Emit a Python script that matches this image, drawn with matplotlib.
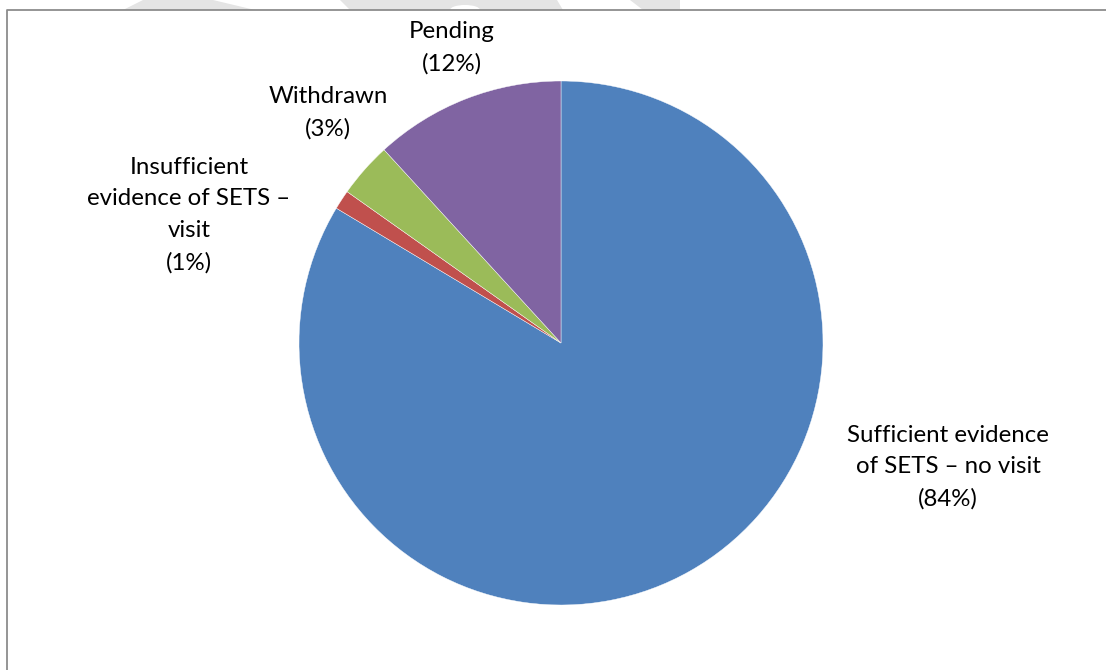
import matplotlib
matplotlib.use("Agg")
import matplotlib.pyplot as plt
from matplotlib.lines import Line2D
from matplotlib.patches import Polygon, Ellipse

# Share of applications by outcome (percent)
categories = [
    "Sufficient evidence\nof SETS \u2013 no visit",
    "Insufficient\nevidence of SETS \u2013\nvisit",
    "Withdrawn",
    "Pending",
]
shares = [83.6, 1.2, 3.4, 11.8]
colors = ["#4F81BD", "#C0504D", "#9BBB59", "#8064A2"]

W, H = 1106, 670
fig = plt.figure(figsize=(W / 100, H / 100), dpi=100)
fig.patch.set_facecolor("white")

def fx(px):
    return px / W

def fy(py):
    return 1 - py / H

# light watermark shapes peeking above the chart frame
for pts in [
    [(143, 0), (213, 0), (255, 10), (123, 10)],
    [(340, 0), (557, 0), (563, 10), (350, 10)],
    [(630, 0), (680, 0), (680, 10), (643, 10)],
]:
    fig.patches.append(Polygon([(fx(x), fy(y)) for x, y in pts], closed=True,
                               transform=fig.transFigure, facecolor="#e4e4e4",
                               edgecolor="none", zorder=0))
fig.patches.append(Ellipse((fx(465), fy(10)), 30 / W, 10 / H,
                           transform=fig.transFigure, facecolor="white",
                           edgecolor="none", zorder=0.5))

# chart frame (open on right and bottom, cut by the page)
fig.lines.append(Line2D([fx(7), fx(7), fx(W + 5)], [fy(H + 5), fy(10), fy(10)],
                        transform=fig.transFigure, color="#8c8c8c", lw=1.3,
                        zorder=1))

# pie axes: centre (561, 343), radius 262 px
cx, cy, r = 561, 343, 262
ax = fig.add_axes([fx(cx - r), fy(cy + r), 2 * r / W, 2 * r / H])
ax.axis("off")

ax.pie(shares, colors=colors, startangle=90, counterclock=False, radius=1,
       wedgeprops=dict(edgecolor="white", linewidth=0.3))
ax.set_xlim(-1, 1)
ax.set_ylim(-1, 1)
ax.set_aspect("equal")

# label block centres in pixels
label_pos = [(948, 467), (189, 215), (328, 113), (452, 48)]
font = ["Lato", "DejaVu Sans"]
for name, val, (px, py) in zip(categories, shares, label_pos):
    ax.text((px - cx) / r, (cy - py) / r, f"{name}\n({val:.0f}%)",
            ha="center", va="center", fontsize=17.3, family=font,
            color="#000000", linespacing=1.62, clip_on=False)

fig.savefig("out.png", dpi=100, facecolor="white")
